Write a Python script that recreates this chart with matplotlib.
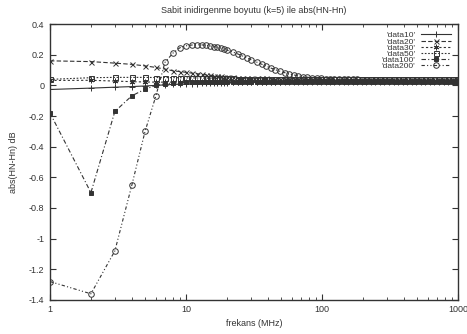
import numpy as np
import matplotlib.pyplot as plt
from matplotlib.ticker import LogLocator, NullFormatter, FixedLocator

# frequencies (MHz) shared by all series
freq = [1, 2, 3, 4, 5, 6, 7, 8, 9, 10, 11, 12, 13, 14, 15, 16, 17, 18, 19, 20,
        22, 24, 26, 28, 30, 33, 36, 39, 42, 45, 49, 53, 57, 62, 67, 72, 78, 84, 91, 98,
        106, 114, 123, 133, 144, 155, 168, 181, 196, 211, 228, 246, 266, 287, 310,
        335, 362, 391, 422, 456, 492, 531, 574, 620, 669, 723, 781, 843, 910, 983, 1000]

data10 = [-0.027, -0.018, -0.012, -0.008, -0.004, 0.000, 0.003, 0.006, 0.008, 0.010,
          0.011, 0.012, 0.013, 0.014, 0.015, 0.016, 0.017, 0.017, 0.018, 0.018,
          0.019, 0.019, 0.020, 0.020, 0.021, 0.021, 0.022, 0.022, 0.022, 0.023,
          0.023, 0.023, 0.023, 0.024, 0.024, 0.024, 0.024, 0.024, 0.025, 0.025,
          0.025, 0.025, 0.025, 0.025, 0.025, 0.025, 0.025, 0.025, 0.025, 0.025,
          0.025, 0.025, 0.025, 0.025, 0.025, 0.025, 0.025, 0.025, 0.025, 0.025,
          0.025, 0.025, 0.025, 0.025, 0.025, 0.025, 0.025, 0.025, 0.025, 0.025, 0.025]

data20 = [0.160, 0.155, 0.145, 0.137, 0.127, 0.117, 0.106, 0.095, 0.090, 0.085,
          0.080, 0.076, 0.072, 0.069, 0.066, 0.063, 0.061, 0.059, 0.057, 0.055,
          0.053, 0.051, 0.050, 0.049, 0.048, 0.047, 0.046, 0.045, 0.044, 0.043,
          0.042, 0.042, 0.041, 0.041, 0.040, 0.040, 0.040, 0.039, 0.039, 0.039,
          0.038, 0.038, 0.038, 0.038, 0.037, 0.037, 0.037, 0.037, 0.037, 0.036,
          0.036, 0.036, 0.036, 0.036, 0.036, 0.036, 0.035, 0.035, 0.035, 0.035,
          0.035, 0.035, 0.035, 0.035, 0.035, 0.035, 0.035, 0.035, 0.035, 0.035, 0.035]

data30 = [0.032, 0.033, 0.028, 0.024, 0.022, 0.021, 0.021, 0.021, 0.021, 0.022,
          0.022, 0.022, 0.022, 0.023, 0.023, 0.023, 0.023, 0.023, 0.024, 0.024,
          0.024, 0.024, 0.024, 0.024, 0.025, 0.025, 0.025, 0.025, 0.025, 0.025,
          0.025, 0.026, 0.026, 0.026, 0.026, 0.026, 0.026, 0.026, 0.026, 0.026,
          0.026, 0.026, 0.026, 0.026, 0.026, 0.026, 0.026, 0.026, 0.026, 0.026,
          0.026, 0.026, 0.026, 0.026, 0.026, 0.026, 0.026, 0.026, 0.026, 0.026,
          0.026, 0.026, 0.026, 0.026, 0.026, 0.026, 0.026, 0.026, 0.026, 0.026, 0.026]

data50 = [0.039, 0.050, 0.052, 0.052, 0.052, 0.051, 0.051, 0.050, 0.050, 0.049,
          0.049, 0.048, 0.048, 0.047, 0.047, 0.046, 0.046, 0.046, 0.045, 0.045,
          0.045, 0.044, 0.044, 0.044, 0.043, 0.043, 0.043, 0.042, 0.042, 0.042,
          0.042, 0.041, 0.041, 0.041, 0.041, 0.041, 0.040, 0.040, 0.040, 0.040,
          0.040, 0.040, 0.040, 0.040, 0.040, 0.040, 0.039, 0.039, 0.039, 0.039,
          0.039, 0.039, 0.039, 0.039, 0.039, 0.039, 0.039, 0.039, 0.039, 0.039,
          0.039, 0.039, 0.039, 0.039, 0.039, 0.039, 0.039, 0.039, 0.039, 0.039, 0.039]

data100 = [-0.180, -0.700, -0.170, -0.068, -0.025, 0.000, 0.010, 0.015, 0.018, 0.020,
           0.021, 0.022, 0.022, 0.023, 0.023, 0.023, 0.024, 0.024, 0.024, 0.024,
           0.024, 0.025, 0.025, 0.025, 0.025, 0.025, 0.025, 0.025, 0.025, 0.025,
           0.025, 0.025, 0.025, 0.025, 0.025, 0.025, 0.025, 0.025, 0.025, 0.025,
           0.025, 0.025, 0.025, 0.025, 0.025, 0.025, 0.025, 0.025, 0.025, 0.025,
           0.025, 0.025, 0.025, 0.025, 0.025, 0.025, 0.025, 0.025, 0.025, 0.025,
           0.025, 0.025, 0.025, 0.025, 0.025, 0.025, 0.025, 0.025, 0.025, 0.025, 0.025]

data200 = [-1.28, -1.36, -1.08, -0.65, -0.30, -0.07, 0.150, 0.210, 0.245, 0.258,
           0.263, 0.265, 0.264, 0.262, 0.258, 0.253, 0.248, 0.242, 0.236, 0.230,
           0.218, 0.205, 0.192, 0.180, 0.168, 0.152, 0.138, 0.125, 0.113, 0.103,
           0.092, 0.083, 0.075, 0.068, 0.062, 0.057, 0.053, 0.050, 0.047, 0.045,
           0.044, 0.043, 0.042, 0.041, 0.040, 0.040, 0.039, 0.039, 0.038, 0.038,
           0.038, 0.037, 0.037, 0.037, 0.036, 0.036, 0.036, 0.036, 0.035, 0.035,
           0.035, 0.035, 0.035, 0.035, 0.034, 0.034, 0.034, 0.034, 0.034, 0.034, 0.034]

series = [
    ("'data10'", data10, '-', '+', 'full', 4),
    ("'data20'", data20, (0, (4, 2)), 'x', 'full', 3.6),
    ("'data30'", data30, (0, (2, 2)), (6, 2, 0), 'full', 4),
    ("'data50'", data50, (0, (1.5, 1.5)), 's', 'none', 3.6),
    ("'data100'", data100, (0, (4, 2, 1, 2)), 's', 'full', 3.0),
    ("'data200'", data200, (0, (3, 2, 1, 2, 1, 2)), 'o', 'none', 4),
]

plt.rcParams['font.family'] = ['Liberation Sans', 'DejaVu Sans']
ink = '#333333'

fig = plt.figure(figsize=(4.67, 3.34), dpi=100)
ax = fig.add_axes([0.107, 0.102, 0.874, 0.826])

for label, vals, ls, mk, fill, ms in series:
    ax.plot(freq, vals, linestyle=ls, marker=mk, fillstyle=fill, color=ink,
            linewidth=0.8, markersize=ms, markeredgewidth=0.7, label=label)

ax.set_xscale('log')
ax.set_xlim(1, 1000)
ax.set_ylim(-1.4, 0.4)
ax.yaxis.set_major_locator(FixedLocator(np.arange(-1.4, 0.41, 0.2)))
ax.set_yticklabels(['-1.4', '-1.2', '-1', '-0.8', '-0.6', '-0.4', '-0.2', '0', '0.2', '0.4'])
ax.xaxis.set_major_locator(FixedLocator([1, 10, 100, 1000]))
ax.set_xticklabels(['1', '10', '100', '1000'])
ax.xaxis.set_minor_locator(LogLocator(base=10, subs=np.arange(2, 10), numticks=20))
ax.xaxis.set_minor_formatter(NullFormatter())

ax.tick_params(axis='both', which='both', direction='in', top=True, right=True,
               labelsize=6.5, colors=ink, pad=4)
ax.tick_params(which='major', length=4, width=0.8)
ax.tick_params(which='minor', length=2, width=0.6)
for sp in ax.spines.values():
    sp.set_color(ink)
    sp.set_linewidth(1.0)

ax.set_title('Sabit inidirgenme boyutu (k=5) ile abs(HN-Hn)', fontsize=6.5, color=ink, pad=8)
ax.set_xlabel('frekans (MHz)', fontsize=6.5, color=ink, labelpad=3)
ax.set_ylabel('abs(HN-Hn) dB', fontsize=6.5, color=ink, labelpad=8)

leg = ax.legend(loc='upper right', frameon=False, markerfirst=False, fontsize=6.0,
                handlelength=3.6, handletextpad=0.6, labelspacing=-0.2,
                borderaxespad=0.3, borderpad=0.6)
for t in leg.get_texts():
    t.set_color(ink)

fig.savefig('out.png', dpi=100)
